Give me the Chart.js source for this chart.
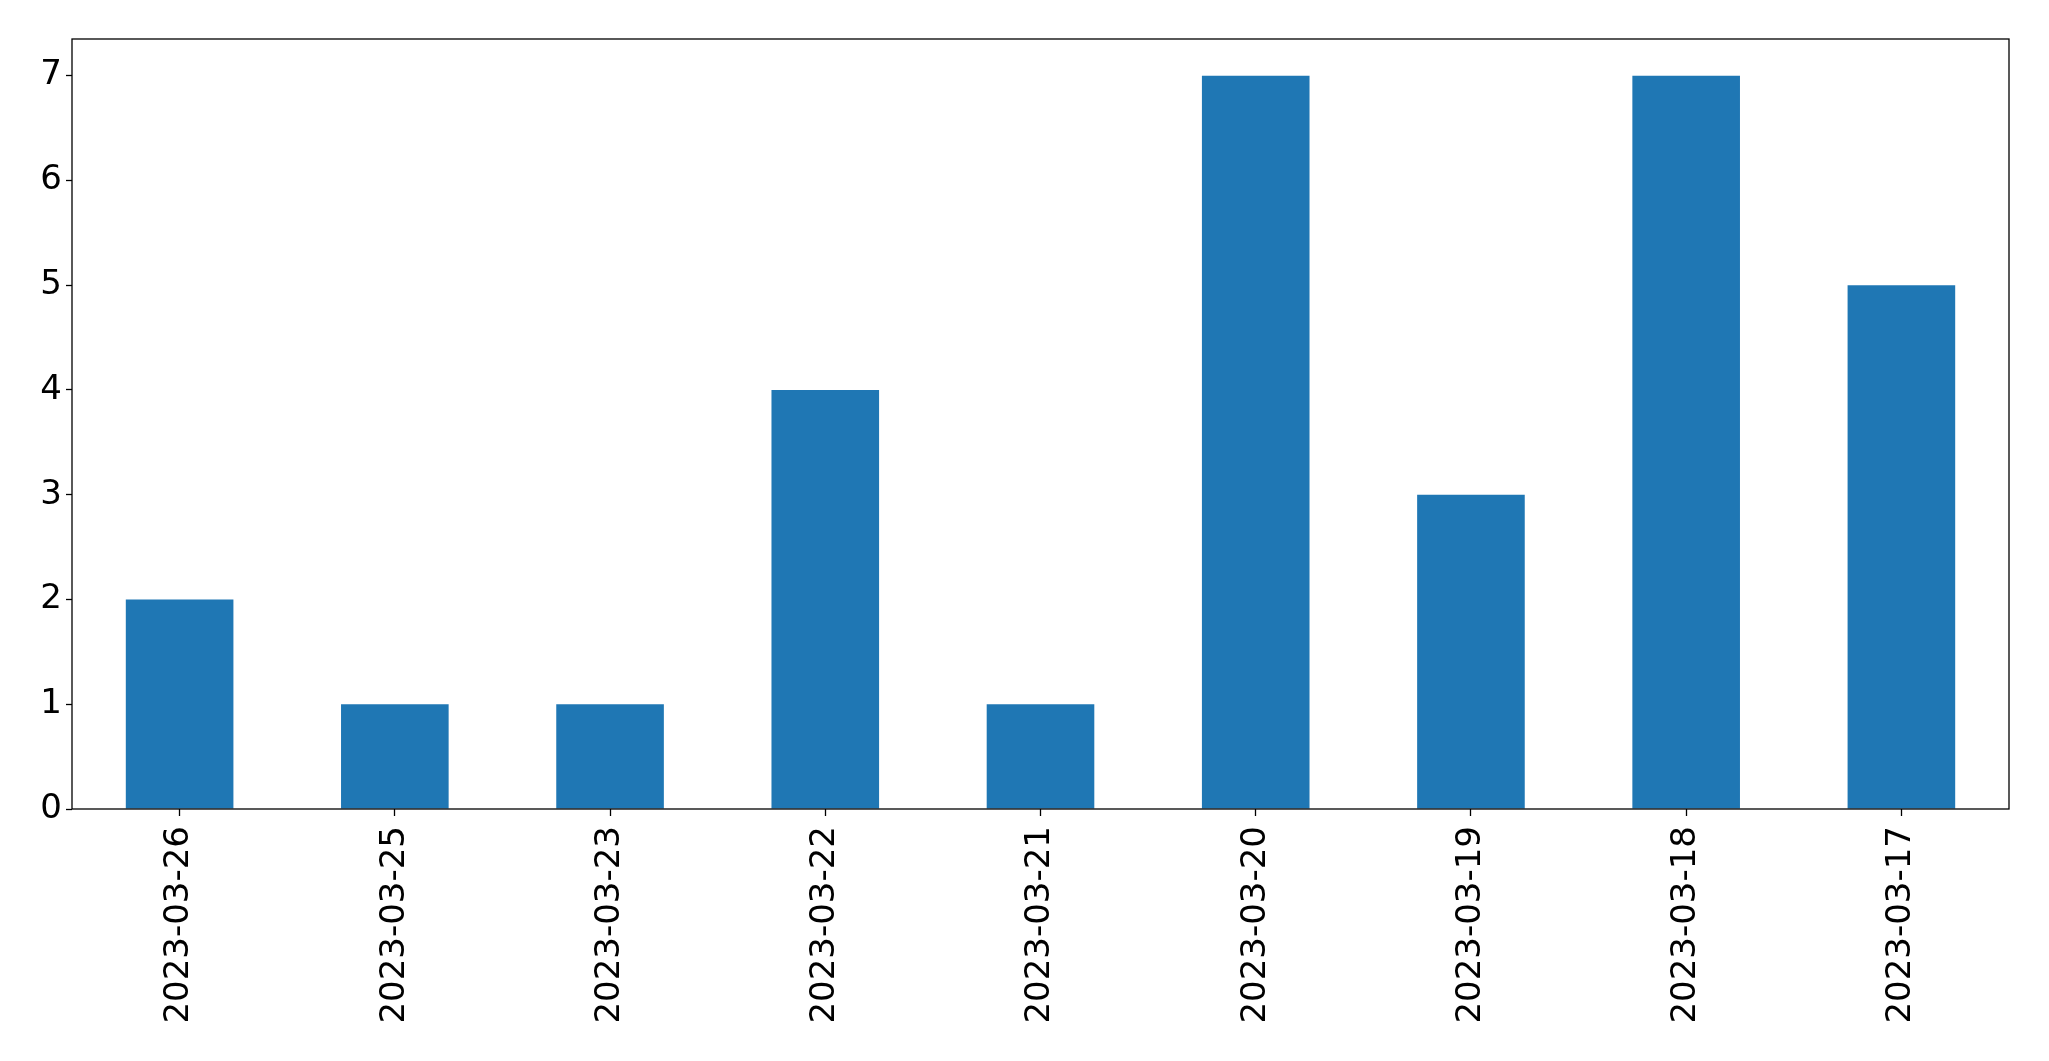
<!DOCTYPE html>
<html lang="en">
<head>
  <meta charset="UTF-8">
  <title>Counts per day</title>
  <script src="https://cdn.jsdelivr.net/npm/chart.js"></script>
  <style>
    body {
      margin: 0;
      background: #fff;
    }
    canvas {
      display: block;
    }
  </style>
</head>
<body>

<canvas id="chart" width="2049" height="1061"></canvas>

<script>
  const dates = ['2023-03-26', '2023-03-25', '2023-03-23', '2023-03-22', '2023-03-21',
                 '2023-03-20', '2023-03-19', '2023-03-18', '2023-03-17'];
  const counts = [2, 1, 1, 4, 1, 7, 3, 7, 5];
  const yTicks = [0, 1, 2, 3, 4, 5, 6, 7];

  // matplotlib-style frame round the plot area
  const frame = {
    id: 'frame',
    afterDraw(chart) {
      const { ctx, chartArea: a } = chart;
      ctx.save();
      ctx.strokeStyle = '#000';
      ctx.lineWidth = 1.3;
      ctx.strokeRect(a.left, a.top, a.right - a.left, a.bottom - a.top);
      ctx.restore();
    }
  };

  const tickFont = { family: "'DejaVu Sans', sans-serif", size: 34 };

  new Chart(document.getElementById('chart'), {
    type: 'bar',
    data: {
      labels: dates,
      datasets: [{
        data: counts,
        backgroundColor: '#1f77b4',
        categoryPercentage: 1,
        barPercentage: 0.5
      }]
    },
    options: {
      responsive: false,
      animation: false,
      devicePixelRatio: 1,
      layout: { padding: { top: 39, right: 40, left: 0, bottom: 0 } },
      plugins: {
        legend: { display: false },
        tooltip: { enabled: false }
      },
      scales: {
        x: {
          offset: true,
          grid: { offset: false, drawOnChartArea: false, drawTicks: true, tickLength: 7, tickColor: '#000', tickWidth: 1.3 },
          border: { display: false },
          ticks: { autoSkip: false, minRotation: 90, maxRotation: 90, padding: 10, color: '#000', font: tickFont },
          afterFit: s => { s.height = 252; }
        },
        y: {
          min: 0,
          max: 7.35,
          grid: { drawOnChartArea: false, drawTicks: true, tickLength: 6, tickColor: '#000', tickWidth: 1.3 },
          border: { display: false },
          ticks: { stepSize: 1, includeBounds: false, padding: 4, color: '#000', font: tickFont },
          afterBuildTicks: s => { s.ticks = yTicks.map(v => ({ value: v })); },
          afterFit: s => { s.width = 72; }
        }
      }
    },
    plugins: [frame]
  });
</script>

</body>
</html>
